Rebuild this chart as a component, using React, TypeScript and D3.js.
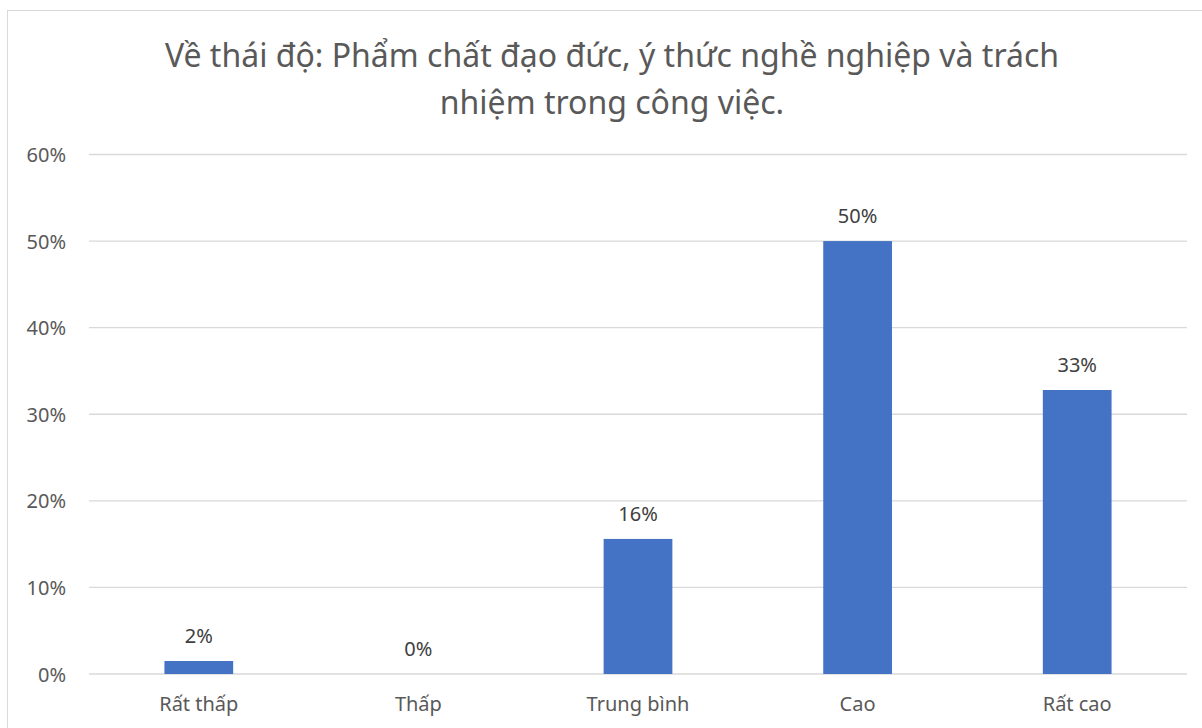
import React from "react";
import * as d3 from "d3";

const categories = ["Rất thấp", "Thấp", "Trung bình", "Cao", "Rất cao"];
const values = [0.015, 0, 0.156, 0.5, 0.328];
const valueLabels = ["2%", "0%", "16%", "50%", "33%"];
const yTicks = [0, 0.1, 0.2, 0.3, 0.4, 0.5, 0.6];
const titleLines = [
  "Về thái độ: Phẩm chất đạo đức, ý thức nghề nghiệp và trách",
  "nhiệm trong công việc.",
];

const W = 1202;
const H = 728;
const FONT = "'Noto Sans', sans-serif";

export default function App() {
  const x = d3
    .scaleBand<string>()
    .domain(categories)
    .range([89, 1187])
    .paddingInner(0.687)
    .paddingOuter(0.3435);
  const y = d3.scaleLinear().domain([0, 0.6]).range([674, 154.5]);
  const fmt = d3.format(".0%");

  return (
    <>
      <style>{`body{margin:0}`}</style>
      <svg width={W} height={H} style={{ display: "block", background: "#fff" }}>
        <rect x={7.5} y={10.5} width={W + 10} height={H + 10} fill="#fff" stroke="#D9D9D9" strokeWidth={1} />
        {titleLines.map((t, i) => (
          <text
            key={i}
            x={612}
            y={67 + i * 47}
            textAnchor="middle"
            fontFamily={FONT}
            fontSize={32}
            fill="#595959"
          >
            {t}
          </text>
        ))}
        {yTicks.map((t) => (
          <g key={t}>
            <line x1={89} x2={1187} y1={y(t)} y2={y(t)} stroke="#D9D9D9" strokeWidth={1.3} />
            <text
              x={66}
              y={y(t) + 7.5}
              textAnchor="end"
              fontFamily={FONT}
              fontSize={20}
              fill="#595959"
            >
              {fmt(t)}
            </text>
          </g>
        ))}
        {categories.map((c, i) => (
          <g key={c}>
            {values[i] > 0 && (
              <rect
                x={x(c)!}
                y={y(values[i])}
                width={x.bandwidth()}
                height={y(0) - y(values[i])}
                fill="#4472C4"
              />
            )}
            <text
              x={x(c)! + x.bandwidth() / 2}
              y={y(values[i]) - 18}
              textAnchor="middle"
              fontFamily={FONT}
              fontSize={20}
              fill="#404040"
            >
              {valueLabels[i]}
            </text>
            <text
              x={x(c)! + x.bandwidth() / 2}
              y={711}
              textAnchor="middle"
              fontFamily={FONT}
              fontSize={20}
              fill="#595959"
            >
              {c}
            </text>
          </g>
        ))}
      </svg>
    </>
  );
}
